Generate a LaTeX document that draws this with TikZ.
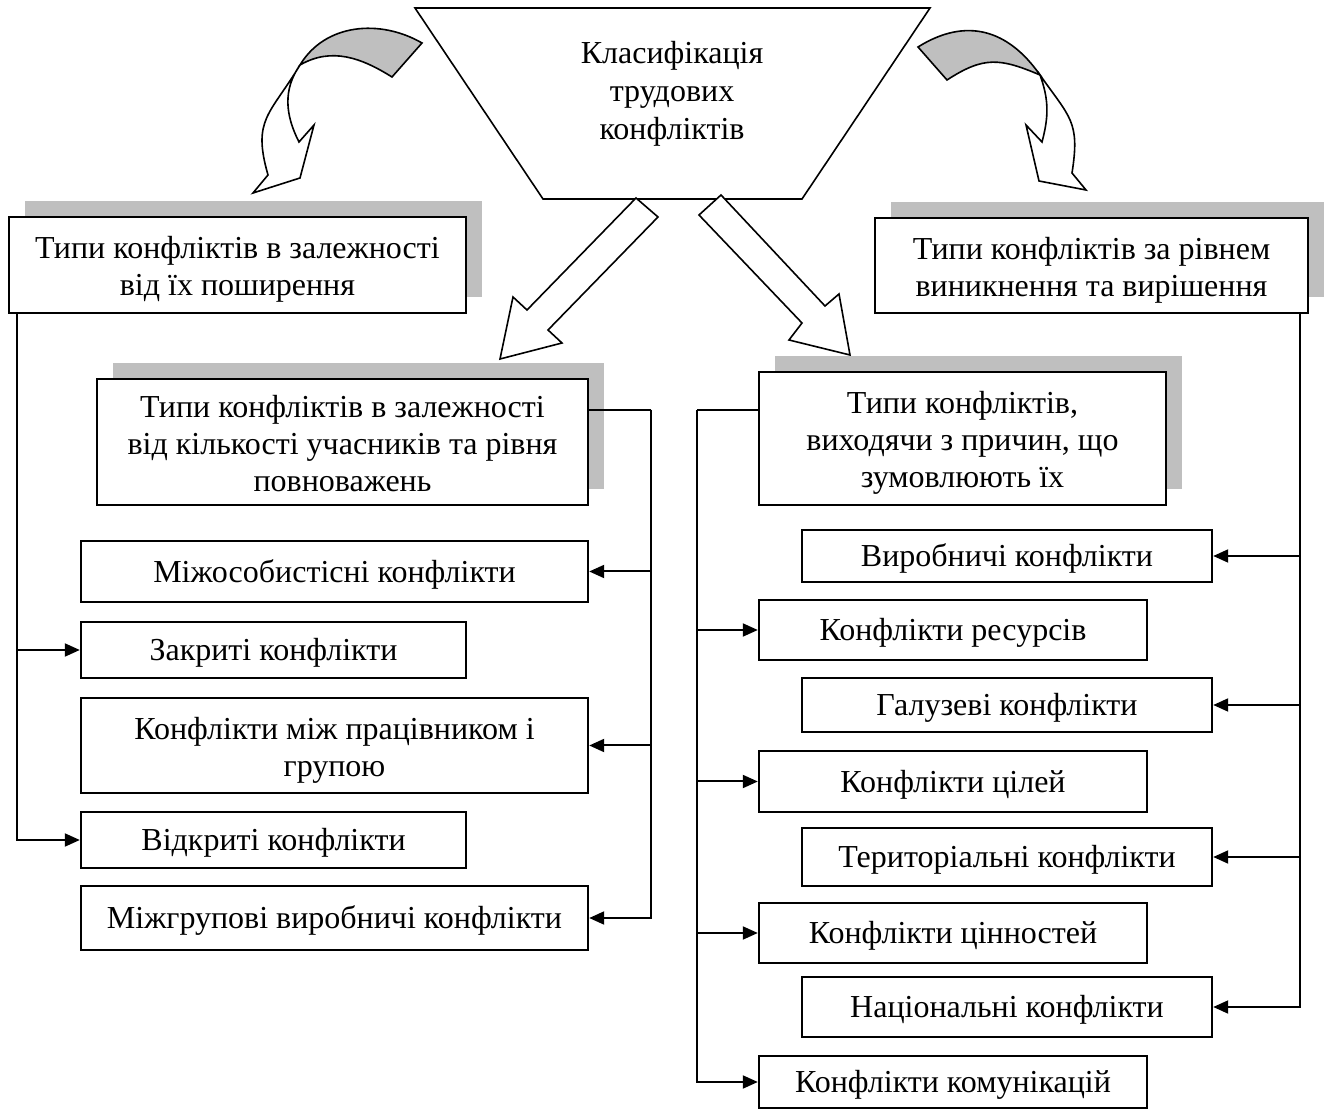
\documentclass[tikz,border=0pt]{standalone}
\usepackage{fontspec}
\setmainfont{Liberation Serif}
\usetikzlibrary{arrows.meta,shadows}

\newcommand{\lift}{\rule{0pt}{16pt}}
\tikzset{
  box/.style={draw,line width=1.2pt,fill=white,inner sep=0pt,align=center,font=\fontsize{16}{18.5}\selectfont,
    execute at begin node={\rule{0pt}{14.3pt}},execute at end node={\rule[-3.5pt]{0pt}{3.5pt}}},
  sbox/.style={box,drop shadow={shadow xshift=8pt,shadow yshift=8pt,fill=black!25,opacity=1}},
  conn/.style={line width=1pt,-{Triangle[length=7.5pt,width=6.5pt]}},
  bent/.style={line width=0.8pt}
}

\begin{document}
\begin{tikzpicture}[x=0.5pt,y=-0.5pt]
        \useasboundingbox (0,0) rectangle (1328,1111);
        \filldraw[bent,fill=white] (300,65) to[out=239,in=106,looseness=1.3] (268,175) -- (253,193) -- (300,178) -- (314,125) -- (299,142) to[out=117,in=235] (300,65) -- cycle;
        \filldraw[bent,fill=black!25] (422,43) to[out=150,in=59] (300,65) to[out=30,in=148] (392,77) -- cycle;
        \filldraw[bent,fill=white] (1040,75) to[out=305,in=81,looseness=1.3] (1072,173) -- (1086,190) -- (1039,181) -- (1026,125) -- (1042,142) to[out=75,in=290] (1040,75) -- cycle;
        \filldraw[bent,fill=black!25] (918,47) to[out=32,in=125,looseness=1.15] (1040,75) to[out=157,in=33,looseness=1.2] (947,80) -- cycle;
        \filldraw[bent,fill=white] (415,8) -- (930,8) -- (802,199) -- (543,199) -- cycle;
        \node[align=center,font=\fontsize{16}{19}\selectfont] (root) at (672,94) {Класифікація\\трудових\\конфліктів};
        \filldraw[bent,fill=white] (636,198) -- (658,217) -- (548,330) -- (562,343) -- (500,359) -- (513,297) -- (527,310) -- cycle;
        \filldraw[bent,fill=white] (721,195) -- (825,306) -- (839,294) -- (850,355) -- (789,340) -- (802,323) -- (699,215) -- cycle;

        \node[sbox,minimum width=228.5pt,minimum height=48pt] (spread) at (237.5,265) {\lift Типи конфліктів в залежності\\від їх поширення};
        \node[sbox,minimum width=216.5pt,minimum height=47.5pt] (level) at (1091.5,265.5) {\lift Типи конфліктів за рівнем\\виникнення та вирішення};
        \node[sbox,minimum width=245.5pt,minimum height=63pt] (members) at (342.5,442) {\lift Типи конфліктів в залежності\\від кількості учасників та рівня\\повноважень};
        \node[sbox,minimum width=203.5pt,minimum height=66.5pt] (causes) at (962.5,438.5) {\lift Типи конфліктів,\\виходячи з причин, що\\зумовлюють їх};

        \node[box,minimum width=253.5pt,minimum height=30.5pt] (personal) at (334.5,571.5) {Міжособистісні конфлікти};
        \node[box,minimum width=192.5pt,minimum height=28pt] (closed) at (273.5,650) {Закриті конфлікти};
        \node[box,minimum width=253.5pt,minimum height=47.5pt] (worker) at (334.5,745.5) {\lift Конфлікти між працівником і\\групою};
        \node[box,minimum width=192.5pt,minimum height=28pt] (open) at (273.5,840) {Відкриті конфлікти};
        \node[box,minimum width=253.5pt,minimum height=32pt] (groups) at (334.5,918) {Міжгрупові виробничі конфлікти};

        \node[box,minimum width=205pt,minimum height=26pt] (industrial) at (1007,556) {Виробничі конфлікти};
        \node[box,minimum width=194pt,minimum height=30pt] (resources) at (953,630) {Конфлікти ресурсів};
        \node[box,minimum width=205pt,minimum height=27pt] (branch) at (1007,705) {Галузеві конфлікти};
        \node[box,minimum width=194pt,minimum height=30.5pt] (goals) at (953,781.5) {Конфлікти цілей};
        \node[box,minimum width=205pt,minimum height=29pt] (territory) at (1007,857) {Територіальні конфлікти};
        \node[box,minimum width=194pt,minimum height=30pt] (values) at (953,933) {Конфлікти цінностей};
        \node[box,minimum width=205pt,minimum height=30pt] (national) at (1007,1007) {Національні конфлікти};
        \node[box,minimum width=194pt,minimum height=26pt] (comm) at (953,1082) {Конфлікти комунікацій};

        \coordinate (busL) at (651,410);
        \coordinate (busR) at (697,410);
        \draw[line width=1pt] (members.east |- busL) -- (busL);
        \draw[line width=1pt] (causes.west |- busR) -- (busR);
        \foreach \t in {closed,open}
            \draw[conn] ([xshift=4.5pt]spread.south west) |- (\t.west);
        \foreach \t in {personal,worker,groups}
            \draw[conn] (busL) |- (\t.east);
        \foreach \t in {resources,goals,values,comm}
            \draw[conn] (busR) |- (\t.west);
        \foreach \t in {industrial,branch,territory,national}
            \draw[conn] ([xshift=-4.5pt]level.south east) |- (\t.east);
\end{tikzpicture}
\end{document}
